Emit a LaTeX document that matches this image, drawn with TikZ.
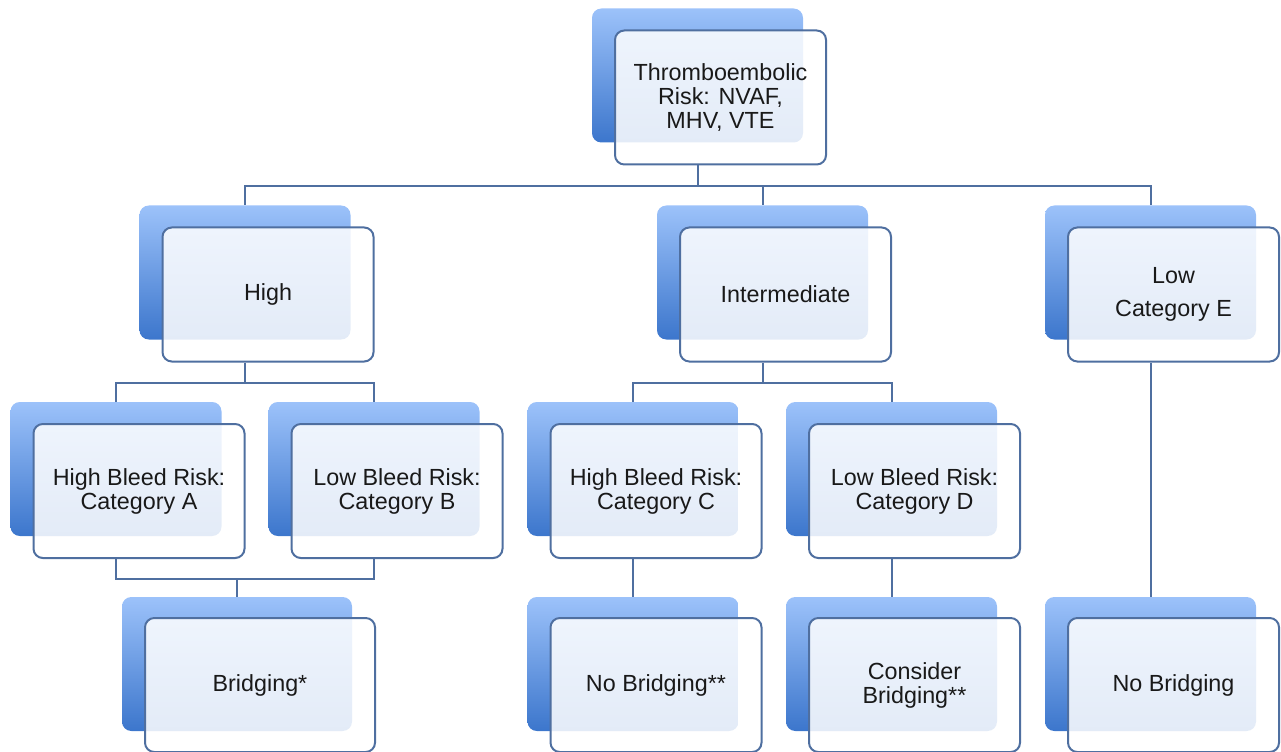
\documentclass[tikz,border=0pt]{standalone}
\usepackage{fontspec}
\setmainfont{Liberation Sans}
\definecolor{boxline}{RGB}{79,111,160}
\definecolor{boxtop}{RGB}{156,194,250}
\definecolor{boxbot}{RGB}{60,118,204}
\definecolor{boxtext}{RGB}{25,25,25}
\tikzset{every picture/.style={line width=0.75pt}}
\tikzset{
	backbox/.style={rounded corners=7pt, minimum width=158.25pt, minimum height=100.5pt, top color=boxtop, bottom color=boxbot, draw=none},
	frontbox/.style={rounded corners=7pt, minimum width=158.25pt, minimum height=100.5pt, draw=boxline, line width=1.5pt, fill=white, fill opacity=0.86, text opacity=1, text=boxtext, align=center, font=\fontsize{17.5}{18}\selectfont},
	conn/.style={draw=boxline, line width=1.5pt}}
\begin{document}
\begin{tikzpicture}[x=0.75pt,y=0.75pt,yscale=-1,xscale=1]
	\useasboundingbox (0,0) rectangle (1281,752);

	%Rounded Rect back
	\node [backbox] (riskb) at (697.5,75.5) {};
	\node [backbox] (highb) at (245,272.5) {};
	\node [backbox] (midb) at (762.5,272.5) {};
	\node [backbox] (lowb) at (1150.5,272.5) {};
	\node [backbox] (catab) at (116,469) {};
	\node [backbox] (catbb) at (374,469) {};
	\node [backbox] (catcb) at (633,469) {};
	\node [backbox] (catdb) at (891.5,469) {};
	\node [backbox, minimum width=172.5pt] (bridgeb) at (237,664) {};
	\node [backbox] (nobrb) at (633,664) {};
	\node [backbox] (considb) at (891.5,664) {};
	\node [backbox] (nobrlowb) at (1150.5,664) {};

	% Text Node
	\node [frontbox] (risk) at (720.5,97.5) {Thromboembolic\\Risk: NVAF,\\MHV, VTE};
	\node [frontbox] (high) at (268,294.5) {High};
	\node [frontbox] (mid) at (785.5,294.5) {Intermediate};
	\node [frontbox] (low) at (1173.5,294.5) {Low\\[7pt]Category E};
	\node [frontbox] (cata) at (139,491) {High Bleed Risk:\\Category A};
	\node [frontbox] (catb) at (397,491) {Low Bleed Risk:\\Category B};
	\node [frontbox] (catc) at (656,491) {High Bleed Risk:\\Category C};
	\node [frontbox] (catd) at (914.5,491) {Low Bleed Risk:\\Category D};
	\node [frontbox, minimum width=172.5pt] (bridge) at (260,685) {Bridging*};
	\node [frontbox] (nobr) at (656,685) {No Bridging**};
	\node [frontbox] (consid) at (914.5,685) {Consider\\Bridging**};
	\node [frontbox] (nobrlow) at (1173.5,685) {No Bridging};

	%Straight Lines
	\draw [conn] (risk.south -| riskb.south) -- ++(0,21) coordinate (riskj);
	\draw [conn] (highb.north) |- (riskj) -| (lowb.north);
	\draw [conn] (riskj) -| (midb.north);
	\draw [conn] (high.south -| highb.south) -- ++(0,20) coordinate (highj);
	\draw [conn] (catab.north) |- (highj) -| (catbb.north);
	\draw [conn] (mid.south -| midb.south) -- ++(0,20) coordinate (midj);
	\draw [conn] (catcb.north) |- (midj) -| (catdb.north);
	\draw [conn] (low.south -| lowb.south) -- (nobrlowb.north);
	\draw [conn] (cata.south -| catab.south) -- ++(0,20) coordinate (abj) -| (catb.south -| catbb.south);
	\draw [conn] (bridgeb.north) -- (bridgeb.north |- abj);
	\draw [conn] (catc.south -| catcb.south) -- (nobrb.north);
	\draw [conn] (catd.south -| catdb.south) -- (considb.north);

\end{tikzpicture}
\end{document}
